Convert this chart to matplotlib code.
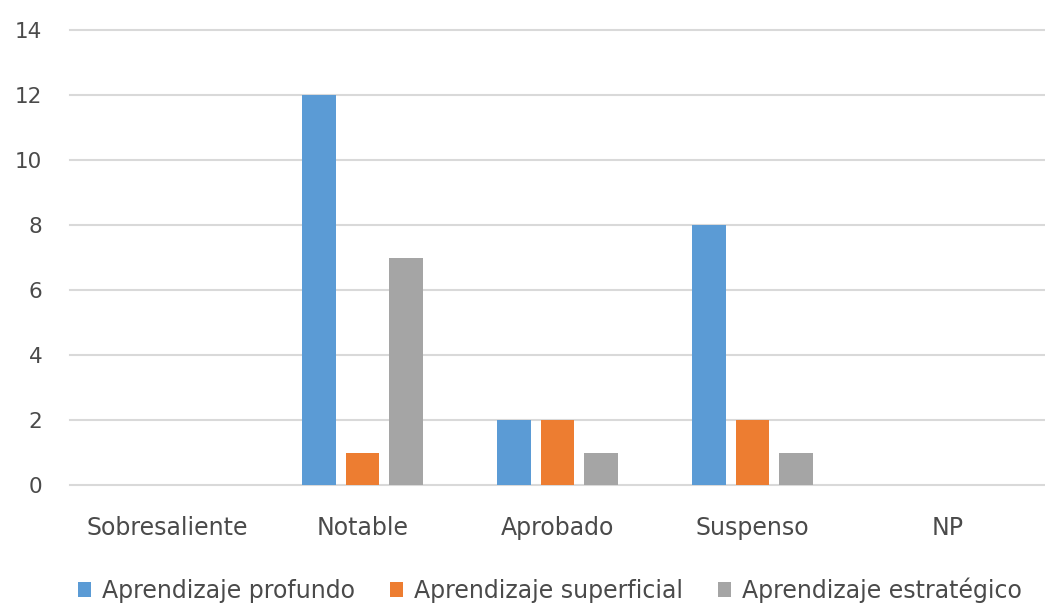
import numpy as np
import matplotlib
matplotlib.use("Agg")
import matplotlib.pyplot as plt

# datos
categorias = ["Sobresaliente", "Notable", "Aprobado", "Suspenso", "NP"]
profundo = [0, 12, 2, 8, 0]
superficial = [0, 1, 2, 2, 0]
estrategico = [0, 7, 1, 1, 0]
series_nombres = ["Aprendizaje profundo", "Aprendizaje superficial", "Aprendizaje estratégico"]
colores = ["#5B9BD5", "#ED7D31", "#A5A5A5"]

plt.rcParams['font.family'] = ['DejaVu Sans']
texto = "#4A4A4A"

fig = plt.figure(figsize=(10.45, 6.05), dpi=100)
ax = fig.add_axes([0.067, 0.198, 0.933, 0.752])

x = np.arange(len(categorias))
ancho = 0.17
paso = 0.223
for i, (vals, nombre, col) in enumerate(zip([profundo, superficial, estrategico], series_nombres, colores)):
    ax.bar(x + (i - 1) * paso, vals, width=ancho, color=col, label=nombre, zorder=3)

ax.set_xlim(-0.5, len(categorias) - 0.5)
ax.set_ylim(0, 14)
ax.set_yticks(range(0, 15, 2))
ax.set_xticks(x)
ax.set_xticklabels(categorias)
ax.grid(axis='y', color="#D9D9D9", linewidth=1.5, zorder=0)
for gl in ax.get_ygridlines():
    gl.set_clip_on(False)
for s in ax.spines.values():
    s.set_visible(False)
ax.tick_params(axis='both', length=0, colors=texto)
ax.tick_params(axis='y', pad=20, labelsize=15.5)
ax.tick_params(axis='x', pad=22, labelsize=17)

fig.legend(loc='center', bbox_to_anchor=(550 / 1045, 1 - 590 / 605), ncol=3, frameon=False,
           fontsize=17, labelcolor=texto, handlelength=0.55, handleheight=0.55,
           handletextpad=0.45, columnspacing=1.5)

fig.savefig("out.png", dpi=100)
